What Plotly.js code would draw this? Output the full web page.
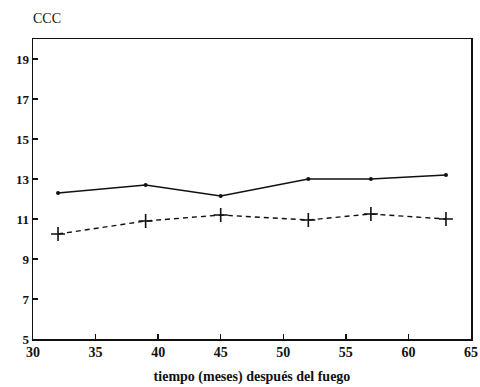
<!DOCTYPE html>
<html>
<head>
<meta charset="utf-8">
<script src="https://cdn.plot.ly/plotly-3.0.1.min.js"></script>
<style>html,body{margin:0;padding:0;background:#fff}#chart{width:480px;height:387px}</style>
</head>
<body>
<div id="chart"></div>
<script>
var months = [32, 39, 45, 52, 57, 63];
var serieSolid = [12.3, 12.7, 12.15, 13.0, 13.0, 13.2];
var serieDashed = [10.25, 10.9, 11.2, 10.95, 11.25, 11.0];
var xTicks = [30, 35, 40, 45, 50, 55, 60, 65];
var yTicks = [5, 7, 9, 11, 13, 15, 17, 19];

var font = {family: 'Liberation Serif, Times New Roman, serif', size: 13, color: '#111'};

var traces = [
  {x: months, y: serieSolid, mode: 'lines+markers', type: 'scatter',
   line: {color: '#111', width: 1.6, dash: 'solid'},
   marker: {symbol: 'circle', size: 4, color: '#111'}},
  {x: months, y: serieDashed, mode: 'lines+markers', type: 'scatter',
   line: {color: '#111', width: 1.4, dash: '5px,4px'},
   marker: {symbol: 'cross-thin', size: 10, line: {color: '#111', width: 1.6}}}
];

var layout = {
  width: 480, height: 387,
  margin: {l: 33, r: 9, t: 39, b: 48},
  paper_bgcolor: '#fff', plot_bgcolor: '#fff',
  showlegend: false,
  font: font,
  title: {text: 'CCC', x: 33/480, xanchor: 'left', y: 1 - 18/387, yanchor: 'middle',
          font: {family: font.family, size: 14, color: '#111'}},
  xaxis: {range: [30, 65], tickvals: xTicks, ticktext: xTicks.map(String),
          showgrid: false, zeroline: false, showline: true, linecolor: '#111', linewidth: 1.5,
          mirror: true, ticks: 'inside', ticklen: 5, tickwidth: 1.5, tickcolor: '#111',
          tickfont: {family: font.family, size: 14, color: '#111', weight: 'bold'},
          title: {text: 'tiempo (meses) después del fuego', standoff: 12,
                  font: {family: font.family, size: 14, color: '#111', weight: 'bold'}}},
  yaxis: {range: [5, 20], tickvals: yTicks, ticktext: yTicks.map(String),
          showgrid: false, zeroline: false, showline: true, linecolor: '#111', linewidth: 1.5,
          mirror: true, ticks: 'inside', ticklen: 5, tickwidth: 1.5, tickcolor: '#111',
          tickfont: {family: font.family, size: 13, color: '#111', weight: 'bold'}}
};

Plotly.newPlot('chart', traces, layout, {displayModeBar: false, staticPlot: true});
</script>
</body>
</html>
